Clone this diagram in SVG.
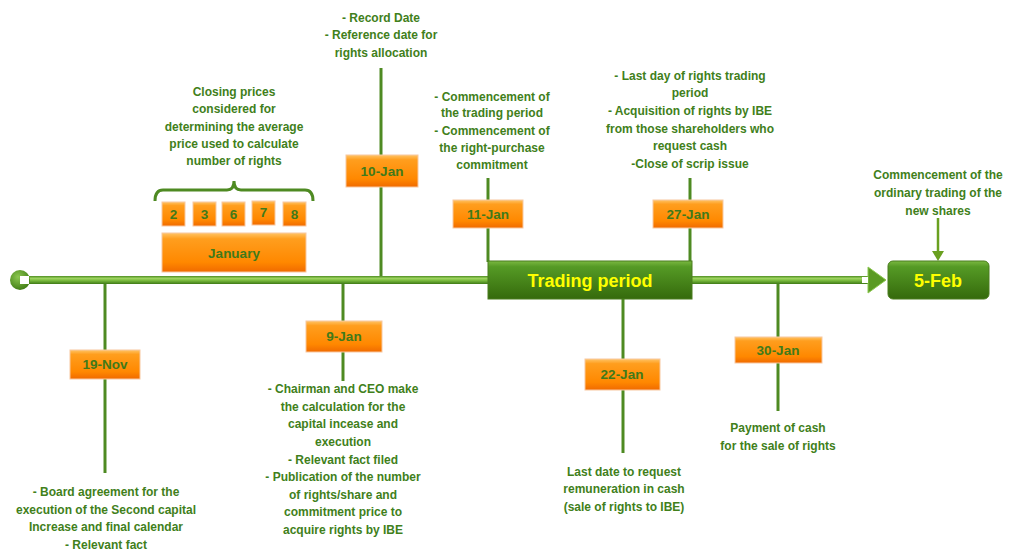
<svg xmlns="http://www.w3.org/2000/svg" width="1012" height="551" viewBox="0 0 1012 551">
<defs>
<linearGradient id="og" x1="0" y1="0" x2="0" y2="1">
<stop offset="0" stop-color="#ffc466"/>
<stop offset="0.15" stop-color="#ff9e1e"/>
<stop offset="0.75" stop-color="#ff8800"/>
<stop offset="1" stop-color="#f06a00"/>
</linearGradient>
<linearGradient id="gg" x1="0" y1="0" x2="0" y2="1">
<stop offset="0" stop-color="#7ab840"/>
<stop offset="0.15" stop-color="#559a25"/>
<stop offset="1" stop-color="#356a0c"/>
</linearGradient>
<linearGradient id="lg" x1="0" y1="0" x2="0" y2="1">
<stop offset="0" stop-color="#4f8e22"/>
<stop offset="0.3" stop-color="#9ed460"/>
<stop offset="0.55" stop-color="#7cbc40"/>
<stop offset="1" stop-color="#3e7a16"/>
</linearGradient>
<radialGradient id="cg" cx="0.4" cy="0.35" r="0.7">
<stop offset="0" stop-color="#8cc850"/>
<stop offset="1" stop-color="#3e7a12"/>
</radialGradient>
</defs>
<style>
.t{font-family:"Liberation Sans",Arial,sans-serif;font-weight:bold;font-size:12px;fill:#41801b;text-anchor:middle}
.d{font-family:"Liberation Sans",Arial,sans-serif;font-weight:bold;font-size:13.5px;fill:#3f7a1a;text-anchor:middle}
.y{font-family:"Liberation Sans",Arial,sans-serif;font-weight:bold;fill:#ffff00;text-anchor:middle}
.ob{fill:url(#og);stroke:#f8c8a0;stroke-width:1}
.gb{fill:url(#gg);stroke:#4a7d1e;stroke-width:1}
.c{stroke:#4e8a22;stroke-width:3;fill:none}
</style>

<g id="connectors">
<line class="c" x1="381" y1="68" x2="381" y2="277"/>
<line class="c" x1="343" y1="283" x2="343" y2="381"/>
<line class="c" x1="105" y1="283" x2="105" y2="473"/>
<line class="c" x1="488" y1="178" x2="488" y2="262"/>
<line class="c" x1="690" y1="178" x2="690" y2="262"/>
<line class="c" x1="623" y1="298" x2="623" y2="453"/>
<line class="c" x1="778" y1="283" x2="778" y2="411"/>
<line x1="938" y1="218" x2="938" y2="252" stroke="#6aa020" stroke-width="2.5"/>
<polygon points="932,251 944,251 938,261" fill="#6aa020"/>
<path class="c" d="M155,201 Q155,190 163,190 L227,190 Q234,190 234,181 Q234,190 241,190 L305,190 Q313,190 313,201"/>
</g>

<g id="timeline">
<rect x="26" y="276" width="846" height="8" fill="url(#lg)"/>
<polygon points="868,267 886,280 868,293" fill="#5a9a22" stroke="#8cc850" stroke-width="1"/>
<rect x="862" y="277" width="6" height="6" fill="#ffffff"/>
<circle cx="20" cy="280" r="10" fill="url(#cg)"/>
<rect x="20" y="276" width="9" height="8" fill="#ffffff"/>
</g>

<g id="n-days">
<rect class="ob" x="162" y="202" width="23" height="24"/><text class="d" x="173.5" y="219">2</text>
<rect class="ob" x="193" y="202" width="23" height="24"/><text class="d" x="204.5" y="219">3</text>
<rect class="ob" x="222" y="202" width="23" height="24"/><text class="d" x="233.5" y="219">6</text>
<rect class="ob" x="252" y="201" width="23" height="24"/><text class="d" x="263.5" y="217">7</text>
<rect class="ob" x="283" y="202" width="23" height="24"/><text class="d" x="294.5" y="219">8</text>
</g>
<g id="n-january">
<rect class="ob" x="162" y="233" width="144" height="39"/>
<text class="d" x="234" y="258">January</text>
</g>
<g id="n-closing">
<text class="t" x="234" y="96">Closing prices</text>
<text class="t" x="234" y="113">considered for</text>
<text class="t" x="234" y="131">determining the average</text>
<text class="t" x="234" y="148">price used to calculate</text>
<text class="t" x="234" y="165">number of rights</text>
</g>

<g id="n-10jan">
<rect class="ob" x="346" y="155" width="72" height="32"/>
<text class="d" x="382" y="176">10-Jan</text>
<text class="t" x="381" y="22">- Record Date</text>
<text class="t" x="381" y="39">- Reference date for</text>
<text class="t" x="381" y="57">rights allocation</text>
</g>

<g id="n-9jan">
<rect class="ob" x="306" y="321" width="76" height="31"/>
<text class="d" x="344" y="341">9-Jan</text>
<text class="t" x="343" y="393">- Chairman and CEO make</text>
<text class="t" x="343" y="411">the calculation for the</text>
<text class="t" x="343" y="428">capital incease and</text>
<text class="t" x="343" y="446">execution</text>
<text class="t" x="343" y="464">- Relevant fact filed</text>
<text class="t" x="343" y="481">- Publication of the number</text>
<text class="t" x="343" y="499">of rights/share and</text>
<text class="t" x="343" y="516">commitment price to</text>
<text class="t" x="343" y="534">acquire rights by IBE</text>
</g>

<g id="n-19nov">
<rect class="ob" x="70" y="350" width="70" height="29"/>
<text class="d" x="105" y="369">19-Nov</text>
<text class="t" x="106" y="496">-  Board agreement for the</text>
<text class="t" x="106" y="514">execution of the Second capital</text>
<text class="t" x="106" y="531">Increase and final calendar</text>
<text class="t" x="106" y="549">-  Relevant fact</text>
</g>

<g id="n-11jan">
<rect class="ob" x="453" y="200" width="70" height="28"/>
<text class="d" x="488" y="219">11-Jan</text>
<text class="t" x="492" y="101">- Commencement of</text>
<text class="t" x="492" y="117">the trading period</text>
<text class="t" x="492" y="135">- Commencement of</text>
<text class="t" x="492" y="152">the right-purchase</text>
<text class="t" x="492" y="169">commitment</text>
</g>

<g id="n-27jan">
<rect class="ob" x="653" y="200" width="70" height="28"/>
<text class="d" x="688" y="219">27-Jan</text>
<text class="t" x="690" y="80">-  Last day of rights trading</text>
<text class="t" x="690" y="97">period</text>
<text class="t" x="690" y="115">- Acquisition of rights by IBE</text>
<text class="t" x="690" y="133">from those shareholders who</text>
<text class="t" x="690" y="150">request cash</text>
<text class="t" x="690" y="168">-Close of scrip issue</text>
</g>

<g id="n-trading">
<rect class="gb" x="488" y="261" width="204" height="38"/>
<text class="y" x="590" y="287" font-size="18">Trading period</text>
</g>

<g id="n-22jan">
<rect class="ob" x="585" y="359" width="75" height="31"/>
<text class="d" x="622" y="379">22-Jan</text>
<text class="t" x="624" y="476">Last date to request</text>
<text class="t" x="624" y="493">remuneration in cash</text>
<text class="t" x="624" y="511">(sale of rights to IBE)</text>
</g>

<g id="n-30jan">
<rect class="ob" x="735" y="337" width="87" height="26"/>
<text class="d" x="778" y="355">30-Jan</text>
<text class="t" x="778" y="432">Payment of cash</text>
<text class="t" x="778" y="450">for the sale of rights</text>
</g>

<g id="n-5feb">
<rect class="gb" x="888" y="261" width="101" height="38" rx="5"/>
<text class="y" x="938" y="287" font-size="18">5-Feb</text>
<text class="t" x="938" y="179">Commencement of the</text>
<text class="t" x="938" y="197">ordinary trading of the</text>
<text class="t" x="938" y="215">new shares</text>
</g>
</svg>
